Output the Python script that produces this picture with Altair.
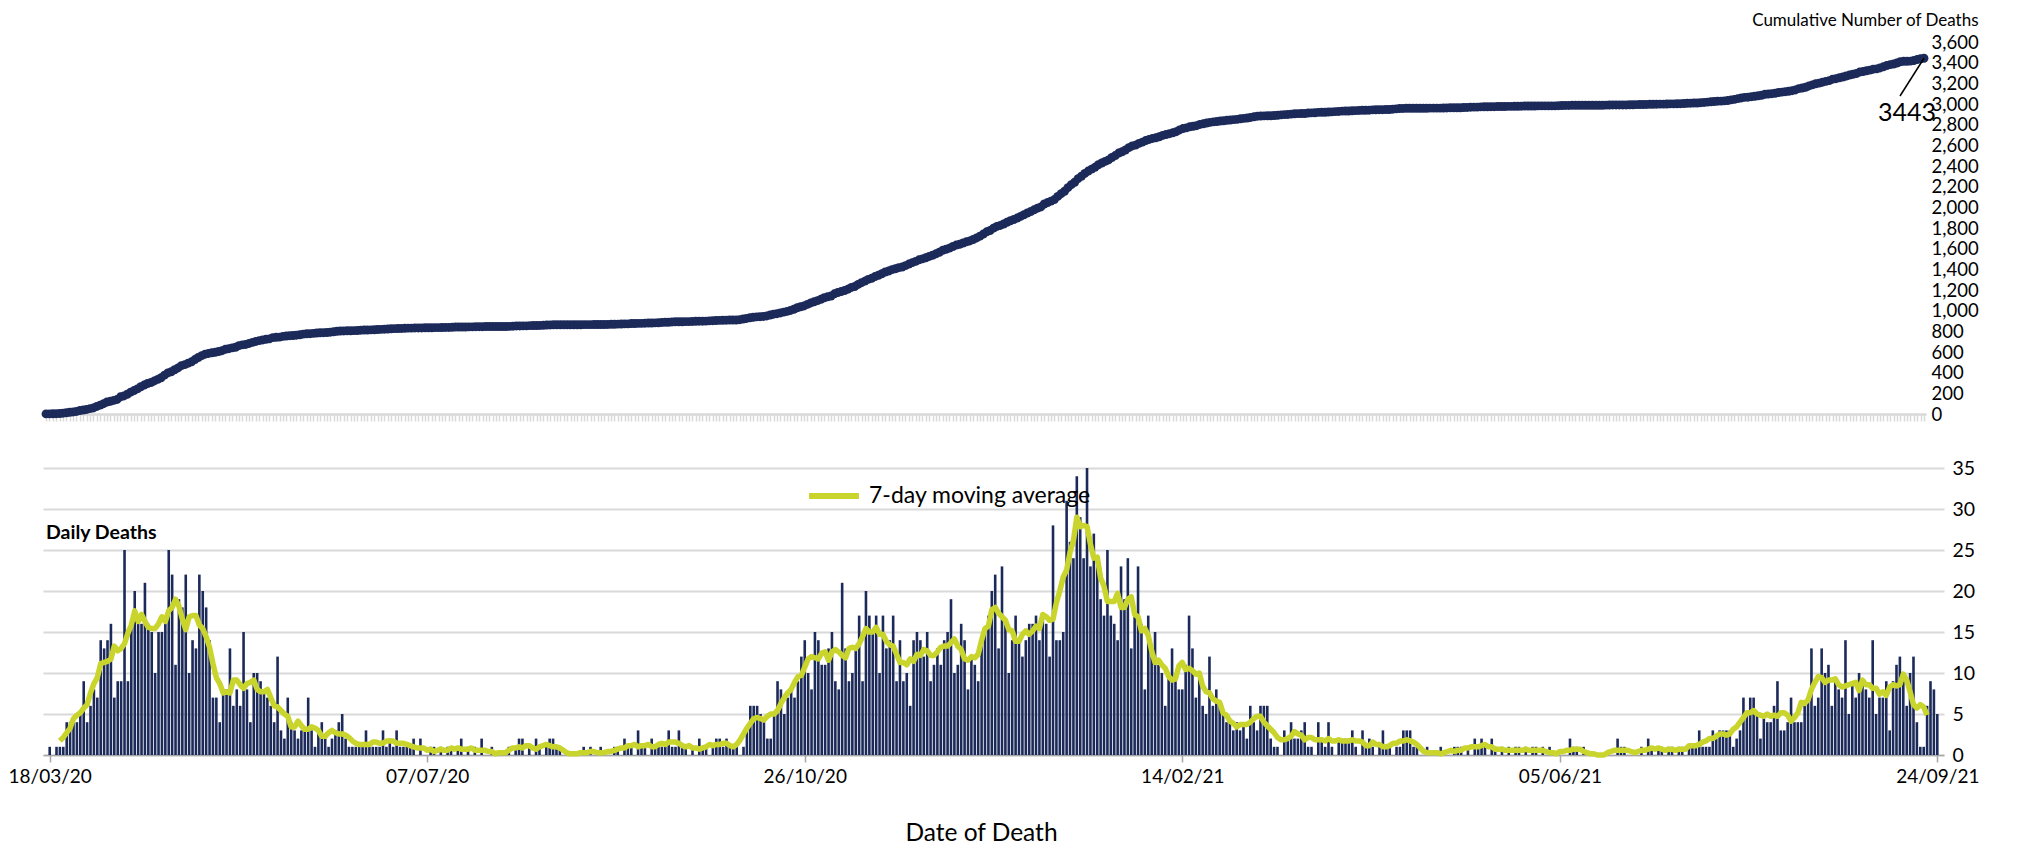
import altair as alt
import pandas as pd

START_DATE = "2020-03-18"

# Daily deaths, one value per day from 18/03/20 to 24/09/21
deaths = [
    1, 0, 1, 1, 1, 4, 4, 4, 4, 5,
    9, 4, 6, 8, 7, 14, 13, 14, 16, 7,
    9, 9, 25, 9, 16, 20, 16, 16, 21, 16,
    15, 10, 15, 15, 16, 25, 22, 11, 19, 18,
    22, 10, 14, 13, 22, 20, 18, 14, 7, 7,
    4, 8, 8, 13, 6, 8, 6, 15, 8, 4,
    10, 10, 9, 8, 7, 6, 4, 12, 3, 2,
    7, 4, 3, 2, 3, 3, 7, 3, 1, 3,
    4, 2, 1, 2, 3, 4, 5, 2, 1, 1,
    1, 1, 1, 3, 1, 1, 1, 1, 3, 1,
    2, 1, 3, 1, 1, 1, 1, 2, 0, 2,
    0, 0, 1, 1, 0, 1, 0, 1, 1, 0,
    1, 2, 0, 1, 0, 1, 0, 2, 0, 0,
    1, 0, 0, 0, 0, 1, 0, 1, 2, 2,
    0, 1, 0, 2, 1, 0, 1, 2, 2, 1,
    1, 0, 0, 0, 0, 0, 0, 1, 0, 1,
    0, 0, 1, 0, 0, 0, 1, 1, 0, 2,
    1, 1, 0, 3, 1, 1, 0, 2, 1, 1,
    1, 1, 3, 1, 1, 3, 1, 1, 0, 1,
    0, 2, 1, 1, 0, 1, 2, 2, 1, 2,
    1, 1, 1, 0, 1, 3, 6, 6, 6, 5,
    4, 2, 2, 5, 9, 8, 5, 7, 8, 7,
    9, 12, 14, 10, 8, 15, 14, 11, 11, 13,
    15, 9, 8, 21, 13, 9, 10, 13, 17, 9,
    20, 17, 15, 17, 10, 17, 13, 14, 17, 9,
    14, 9, 10, 6, 14, 15, 14, 12, 15, 9,
    11, 13, 11, 14, 15, 19, 10, 11, 16, 14,
    8, 12, 11, 9, 14, 15, 17, 20, 22, 13,
    23, 16, 10, 14, 17, 14, 12, 14, 16, 16,
    17, 14, 17, 16, 12, 28, 14, 14, 15, 31,
    26, 24, 34, 29, 24, 35, 23, 27, 23, 19,
    17, 25, 17, 16, 14, 23, 19, 24, 13, 17,
    23, 16, 8, 17, 12, 15, 11, 10, 6, 10,
    13, 9, 8, 8, 11, 17, 13, 7, 10, 6,
    5, 12, 6, 8, 6, 5, 4, 4, 3, 4,
    3, 4, 2, 6, 4, 3, 6, 6, 6, 2,
    1, 1, 0, 3, 2, 4, 2, 2, 3, 4,
    1, 1, 0, 4, 2, 1, 4, 1, 0, 2,
    2, 2, 2, 3, 1, 0, 3, 1, 2, 1,
    0, 1, 3, 1, 1, 0, 1, 1, 3, 3,
    3, 1, 1, 0, 0, 1, 0, 0, 0, 1,
    0, 0, 0, 1, 1, 1, 0, 1, 0, 2,
    1, 2, 1, 0, 2, 1, 0, 1, 0, 1,
    0, 1, 1, 0, 1, 0, 1, 1, 0, 1,
    0, 1, 0, 0, 0, 0, 0, 2, 1, 1,
    0, 1, 0, 0, 0, 0, 0, 0, 0, 0,
    0, 2, 1, 1, 0, 0, 0, 0, 1, 0,
    2, 1, 0, 1, 1, 0, 1, 1, 0, 1,
    1, 0, 1, 1, 1, 3, 1, 1, 1, 3,
    2, 3, 3, 3, 3, 1, 2, 3, 7, 5,
    7, 7, 5, 2, 5, 4, 4, 6, 9, 3,
    3, 4, 7, 4, 4, 4, 6, 7, 13, 6,
    7, 13, 10, 11, 6, 9, 8, 7, 14, 5,
    9, 7, 10, 9, 8, 7, 14, 5, 7, 7,
    9, 3, 9, 11, 12, 9, 6, 10, 12, 4,
    1, 1, 6, 9, 8, 5,
]

tick_dates = ["2020-03-18", "2020-07-07", "2020-10-26", "2021-02-14", "2021-06-05", "2021-09-24"]
cum_ticks = list(range(0, 3601, 200))
daily_ticks = [0, 5, 10, 15, 20, 25, 30, 35]

cum_title = "Cumulative Number of Deaths"
daily_label = "Daily Deaths"
ma_label = "7-day moving average"
x_title = "Date of Death"

NAVY = "#1c2a5a"
LIME = "#c9d52c"
FONT = "Lato"

dates = pd.date_range(START_DATE, periods=len(deaths), freq="D").strftime("%Y-%m-%d").tolist()
df = pd.DataFrame({"date": dates, "deaths": deaths, "day": list(range(len(deaths)))})
last_day = len(deaths) - 1


def dt(s, hours=0, minutes=0):
    y, m, d = (int(p) for p in s.split("-"))
    return alt.DateTime(year=y, month=m, date=d, hours=hours, minutes=minutes, utc=True)


# ---------------- top: cumulative ----------------
base_top = alt.Chart(df).transform_window(
    cum="sum(deaths)", frame=[None, 0], sort=[{"field": "day"}]
)

top_x_axis = alt.Axis(
    labels=False, title=None, grid=False,
    tickCount=alt.TimeIntervalStep(interval="day", step=1),
    domainColor="#d9d9d9", domainWidth=2.5,
    tickColor="#d9d9d9", tickWidth=1.5, tickSize=7,
)
top_y_axis = alt.Axis(
    orient="right", values=cum_ticks, labelExpr="format(datum.value, ',')",
    grid=False, ticks=False, domain=False,
    labelFontSize=18.5, labelPadding=5, labelColor="black",
    title=cum_title, titleAngle=0, titleAlign="right", titleBaseline="middle",
    titleX=52, titleY=-22, titleFontSize=17, titleFontWeight="normal", titleColor="black",
)
x_scale_top = alt.Scale(type="utc", domain=[dt("2020-03-17", 2, 24), dt("2021-09-24", 14, 24)])
y_scale_top = alt.Scale(domain=[0, 3600], nice=False)

x_top = alt.X("date:T", scale=x_scale_top, axis=top_x_axis)
y_top = alt.Y("cum:Q", scale=y_scale_top, axis=top_y_axis)

top_line = base_top.mark_line(color=NAVY, strokeWidth=5).encode(x=x_top, y=y_top)
top_pts = base_top.mark_circle(color=NAVY, size=80, opacity=1).encode(x=x_top, y=y_top)
last_pt = base_top.transform_filter(alt.datum.day == last_day)
leader = last_pt.mark_rule(color="black", strokeWidth=1.5).encode(
    x=x_top, y=y_top, x2=alt.value(1857), y2=alt.value(54)
)
last_lbl = last_pt.mark_text(dx=-17, dy=55, fontSize=25, color="black", font=FONT).encode(
    x=x_top, y=y_top, text=alt.Text("cum:Q", format="d")
)

top = alt.layer(top_line, top_pts, leader, last_lbl).properties(width=1883, height=372)

# ---------------- bottom: daily ----------------
base_bot = alt.Chart(df)
bot_x_axis = alt.Axis(
    values=[dt(s) for s in tick_dates],
    labelExpr="utcFormat(datum.value, '%d/%m/%y')",
    labelFlush=False, labelOverlap=False, labelFontSize=19, labelPadding=5, labelColor="black",
    tickSize=7, tickColor="#a6a6a6", tickWidth=1.5,
    domainColor="#a6a6a6", domainWidth=1.5, grid=False,
    title=x_title, titleFontSize=24.5, titleFontWeight="normal", titleColor="black",
    titlePadding=35, titleX=938,
)
bot_y_axis = alt.Axis(
    orient="right", values=daily_ticks, grid=True, gridColor="#d9d9d9", gridWidth=1.8,
    domain=False, ticks=False, labelPadding=8, labelFontSize=19.5, labelColor="black",
    title=None,
)
x_scale_bot = alt.Scale(type="utc", domain=[dt("2020-03-17", 12), dt("2021-09-24", 12)])
y_scale_bot = alt.Scale(domain=[0, 35], nice=False)

x_bot = alt.X("date:T", scale=x_scale_bot, axis=bot_x_axis)

bars = base_bot.mark_bar(color=NAVY, size=2.6).encode(
    x=x_bot, y=alt.Y("deaths:Q", scale=y_scale_bot, axis=bot_y_axis)
)

ma = (
    base_bot.transform_window(
        ma="mean(deaths)", n="count()", frame=[-3, 3], sort=[{"field": "day"}]
    )
    .transform_filter("datum.n == 7")
    .transform_calculate(series=f"'{ma_label}'")
    .mark_line(strokeWidth=5.5, strokeJoin="round")
    .encode(
        x=x_bot,
        y=alt.Y("ma:Q", scale=y_scale_bot, axis=bot_y_axis),
        color=alt.Color(
            "series:N",
            scale=alt.Scale(range=[LIME]),
            legend=alt.Legend(
                title=None, orient="none", legendX=763, legendY=426,
                symbolType="stroke", symbolStrokeWidth=6, symbolSize=2500,
                labelFontSize=23, labelFont=FONT, labelColor="black", labelOffset=7,
                labelLimit=0, padding=0,
            ),
        ),
    )
)

daily_txt = alt.Chart(pd.DataFrame({"t": [daily_label]})).mark_text(
    align="left", baseline="middle", fontSize=19.5, fontWeight="bold", font=FONT, color="black"
).encode(x=alt.value(3), y=alt.value(65), text="t:N")

bottom = alt.layer(bars, ma, daily_txt).properties(width=1901, height=287)

chart = (
    alt.vconcat(top, bottom, spacing=54, bounds="flush")
    .properties(padding={"left": 0, "top": 3, "right": 0, "bottom": 0}, background="white")
    .configure(font=FONT)
    .configure_view(stroke=None)
    .configure_axis(labelFont=FONT, titleFont=FONT)
)

chart.save("out.html", embed_options={"renderer": "svg", "actions": False})
